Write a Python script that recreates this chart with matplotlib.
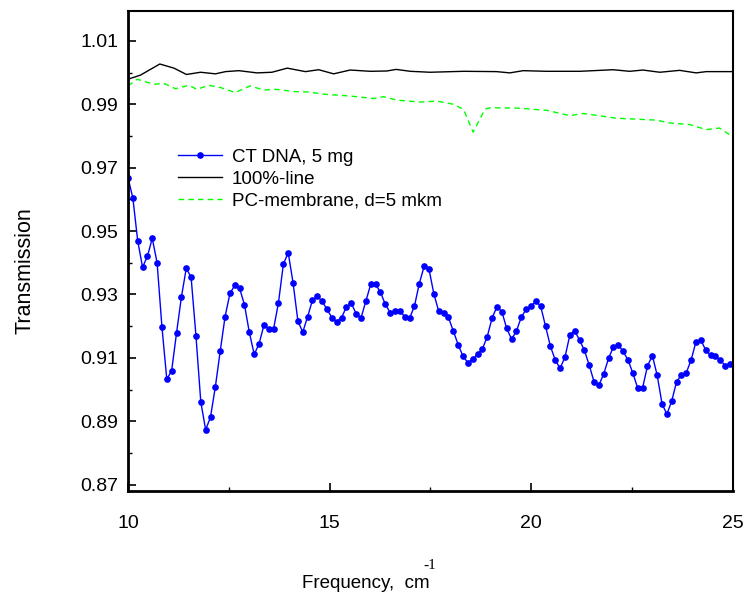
import numpy as np
import matplotlib.pyplot as plt
from matplotlib.ticker import FixedLocator

plt.rcParams["font.family"] = ["Liberation Sans", "DejaVu Sans"]

# CT DNA spectrum, uniform frequency grid (cm^-1)
dna_freq = np.linspace(10.0, 24.93, 125)
dna_trans = [
    0.9668, 0.9605, 0.9470, 0.9386, 0.9420, 0.9477, 0.9400, 0.9197, 0.9032, 0.9060,
    0.9178, 0.9291, 0.9382, 0.9355, 0.9170, 0.8961, 0.8873, 0.8913, 0.9009, 0.9121,
    0.9230, 0.9303, 0.9329, 0.9319, 0.9267, 0.9180, 0.9111, 0.9144, 0.9203, 0.9192,
    0.9192, 0.9274, 0.9395, 0.9432, 0.9337, 0.9216, 0.9181, 0.9230, 0.9282, 0.9295,
    0.9278, 0.9253, 0.9227, 0.9214, 0.9227, 0.9261, 0.9272, 0.9239, 0.9226, 0.9279,
    0.9332, 0.9332, 0.9307, 0.9269, 0.9243, 0.9247, 0.9247, 0.9230, 0.9225, 0.9263,
    0.9334, 0.9389, 0.9380, 0.9302, 0.9247, 0.9242, 0.9228, 0.9185, 0.9142, 0.9105,
    0.9085, 0.9095, 0.9111, 0.9128, 0.9167, 0.9226, 0.9261, 0.9246, 0.9193, 0.9159,
    0.9184, 0.9228, 0.9253, 0.9263, 0.9278, 0.9263, 0.9200, 0.9137, 0.9093, 0.9067,
    0.9102, 0.9171, 0.9186, 0.9156, 0.9124, 0.9077, 0.9024, 0.9014, 0.9050, 0.9099,
    0.9135, 0.9140, 0.9120, 0.9093, 0.9051, 0.9004, 0.9006, 0.9074, 0.9107, 0.9045,
    0.8955, 0.8922, 0.8964, 0.9025, 0.9046, 0.9053, 0.9094, 0.9151, 0.9156, 0.9124,
    0.9108, 0.9106, 0.9093, 0.9075, 0.9081,
]

# 100%-line
ref_freq = [10.0, 10.31, 10.79, 11.14, 11.45, 11.80, 12.17, 12.42, 12.75, 13.20,
            13.57, 13.95, 14.40, 14.73, 15.10, 15.51, 16.01, 16.42, 16.65, 17.00,
            17.49, 18.32, 19.14, 19.47, 19.80, 20.38, 21.21, 22.03, 22.44, 22.77,
            23.19, 23.68, 24.09, 24.34, 25.0]
ref_trans = [0.9979, 0.9992, 1.0027, 1.0014, 0.9994, 1.0001, 0.9996, 1.0003, 1.0006, 0.9999,
             1.0001, 1.0014, 1.0003, 1.0009, 0.9996, 1.0008, 1.0004, 1.0005, 1.0010, 1.0004,
             1.0001, 1.0004, 1.0003, 0.9999, 1.0006, 1.0004, 1.0004, 1.0009, 1.0004, 1.0008,
             1.0001, 1.0007, 0.9999, 1.0003, 1.0003]

# PC-membrane
pc_freq = [10.0, 10.23, 10.64, 10.89, 11.18, 11.51, 11.71, 12.00, 12.29, 12.66,
           13.03, 13.36, 13.69, 14.11, 14.44, 14.93, 15.51, 16.09, 16.34, 16.67,
           17.24, 17.66, 18.07, 18.32, 18.56, 18.85, 18.98, 19.64, 20.38, 20.96,
           21.29, 22.11, 23.10, 23.43, 23.93, 24.34, 24.67, 25.0]
pc_trans = [0.9958, 0.9979, 0.9963, 0.9966, 0.9949, 0.9960, 0.9947, 0.9960, 0.9953, 0.9937,
            0.9958, 0.9945, 0.9947, 0.9940, 0.9939, 0.9931, 0.9926, 0.9918, 0.9924, 0.9913,
            0.9907, 0.9910, 0.9900, 0.9884, 0.9812, 0.9884, 0.9889, 0.9888, 0.9881, 0.9864,
            0.9871, 0.9856, 0.9850, 0.9841, 0.9836, 0.9820, 0.9825, 0.9797]

fig = plt.figure(figsize=(7.44, 5.98), dpi=100)
ax = fig.add_axes([0.172, 0.179, 0.813, 0.803])

ax.plot(dna_freq, dna_trans, color="#0000ff", lw=1.0, marker="o", ms=3.8,
        label="CT DNA, 5 mg")
ax.plot(ref_freq, ref_trans, color="black", lw=1.0, label="100%-line")
ax.plot(pc_freq, pc_trans, color="#00ff00", lw=1.0, ls=(0, (4, 3)),
        label="PC-membrane, d=5 mkm")

ax.set_xlim(10, 25)
ax.set_ylim(0.868, 1.0195)
ax.set_xticks([10, 15, 20, 25])
ax.xaxis.set_minor_locator(FixedLocator([12.5, 17.5, 22.5]))
ax.set_yticks(np.arange(0.87, 1.011, 0.02))
ax.set_yticklabels(["0.87", "0.89", "0.91", "0.93", "0.95", "0.97", "0.99", "1.01"])
ax.yaxis.set_minor_locator(FixedLocator(np.arange(0.88, 1.005, 0.02)))

ax.tick_params(axis="both", which="major", direction="in", length=6, width=1.2,
               labelsize=14, top=False, right=False)
ax.tick_params(axis="both", which="minor", direction="in", length=3, width=1.0,
               top=False, right=False)
ax.tick_params(axis="x", which="major", pad=17)
ax.tick_params(axis="y", which="major", pad=7)

for side in ["left", "bottom"]:
    ax.spines[side].set_linewidth(2.0)
for side in ["top", "right"]:
    ax.spines[side].set_linewidth(1.5)

leg = ax.legend(loc="upper left", bbox_to_anchor=(0.0826, 0.713), frameon=False,
                fontsize=13.5, handlelength=2.35, handletextpad=0.53, labelspacing=0.25,
                borderpad=0, borderaxespad=0)

fig.text(0.034, 0.548, "Transmission", rotation=90, fontsize=15.5,
         ha="center", va="center")
fig.text(0.492, 0.025, "Frequency,  cm", fontsize=13.5, ha="center", va="center")
fig.text(0.578, 0.054, "-1", fontsize=11, ha="center", va="center",
         family=["Liberation Serif", "DejaVu Serif"])

fig.savefig("out.png", dpi=100)
